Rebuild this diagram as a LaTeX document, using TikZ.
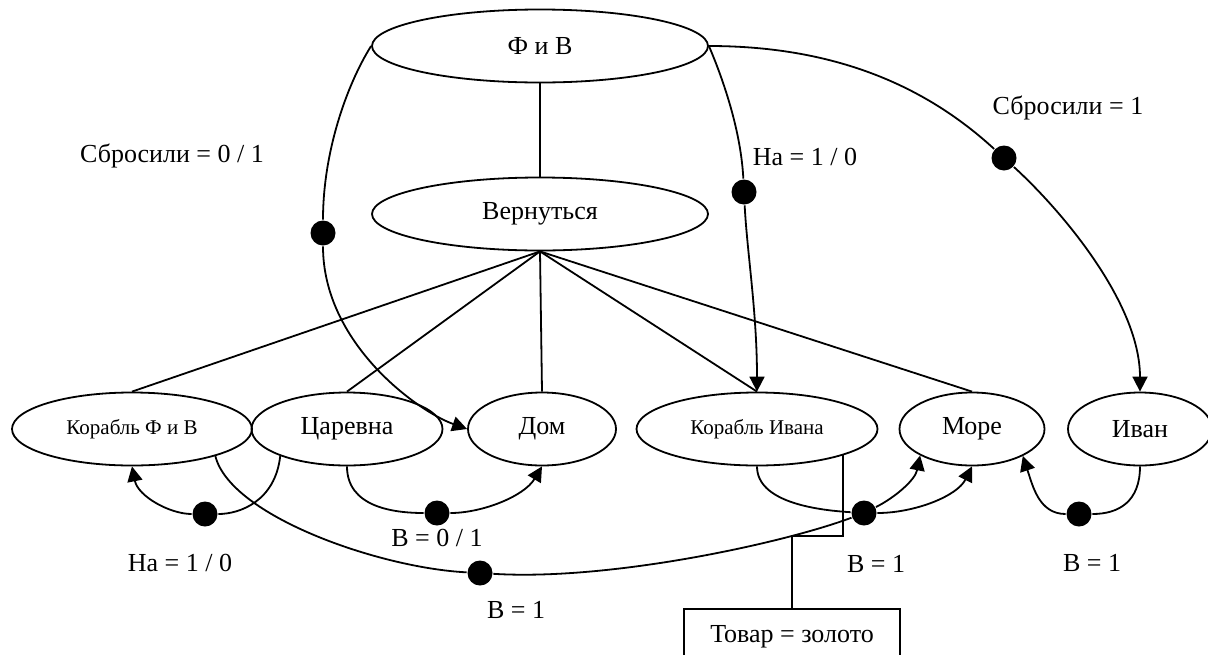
\documentclass[tikz,border=0pt]{standalone}
\usepackage{fontspec}
\setmainfont{Liberation Serif}
\usetikzlibrary{positioning, shapes.geometric, arrows.meta}

\begin{document}
\begin{tikzpicture}[
  x=1pt,
  y=-1pt,
  line width=1.8pt,
  every node/.style={
    inner sep=0mm
  },
  oval/.style={
    draw,
    ellipse,
    minimum width=#1,
    minimum height=73pt,
    font=\fontsize{26}{30}\selectfont
  },
  smalloval/.style={oval=#1, font=\fontsize{21}{25}\selectfont},
  junction/.style={circle, fill=black, minimum size=25pt},
  lbl/.style={font=\fontsize{26}{30}\selectfont},
  arr/.style={-{Triangle[length=15pt,width=15pt]}},
]
\useasboundingbox (0,0) rectangle (1208,654);
\clip (0,0) rectangle (1208,654);

\node[oval=336pt] (fiv) at (540,46) {Ф и В};
\node[oval=336pt] (back) at (540,214) {Вернуться};
\node[smalloval=240pt] (shipfv) at (132,429) {Корабль Ф и В};
\node[oval=191pt] (tsar) at (347,429) {Царевна};
\node[oval=148pt] (home) at (542,429) {Дом};
\node[smalloval=241pt] (shipiv) at (757,429) {Корабль Ивана};
\node[oval=145pt] (sea) at (972,429) {Море};
\node[oval=144pt] (ivan) at (1140,429) {Иван};
\node[draw, minimum width=216pt, minimum height=56pt, lbl] (goods) at (792,637) {Товар = золото};

\node[junction] (d1) at (323,233) {};
\node[junction] (d2) at (744,192) {};
\node[junction] (d3) at (1004,158) {};
\node[junction] (d4) at (205,514) {};
\node[junction] (d5) at (437,513) {};
\node[junction] (d6) at (480,573) {};
\node[junction] (d7) at (864,513) {};
\node[junction] (d8) at (1079,514) {};

\node[lbl] (l1) at (172,156) {Сбросили = 0 / 1};
\node[lbl] (l2) at (805,157) {На = 1 / 0};
\node[lbl] (l3) at (1068,108) {Сбросили = 1};
\node[lbl] (l4) at (180,563) {На = 1 / 0};
\node[lbl] (l5) at (437,538) {В = 0 / 1};
\node[lbl] (l6) at (516,610) {В = 1};
\node[lbl] (l7) at (876,564) {В = 1};
\node[lbl] (l8) at (1092,563) {В = 1};

\draw (fiv) -- (back);
\foreach \n in {shipfv, tsar, home, shipiv, sea}
  \draw (back.south) -- (\n.north);

\draw (fiv.west) .. controls +(-25,40) and +(0,-80) .. (d1);
\draw[arr] (d1) .. controls +(0,110) and +(-50,-18) .. (home.west);
\draw (fiv.east) .. controls +(15,35) and +(-3,-60) .. (d2);
\draw[arr] (d2) .. controls +(3,60) and +(0,-80) .. (shipiv.north);
\draw (fiv.east) .. controls +(132,0) and +(-74,-68) .. (d3);
\draw[arr] (d3) .. controls +(55,50) and +(0,-90) .. (ivan.north);

\draw (tsar.-158) .. controls +(-5,45) and +(35,0) .. (d4);
\draw[arr] (d4) .. controls +(-35,0) and +(6,30) .. (shipfv.south);
\draw (tsar.south) .. controls +(0,40) and +(-45,0) .. (d5);
\draw[arr] (d5) .. controls +(45,0) and +(-18,30) .. (home.south);
\draw (shipfv.-18) .. controls +(15,60) and +(-100,-5) .. (d6);
\draw (d6) .. controls +(130,8) and +(-80,30) .. (d7);
\draw[arr] (d7) .. controls +(30,-15) and +(-5,25) .. (sea.-153);
\draw (shipiv.south) .. controls +(0,35) and +(-50,-3) .. (d7);
\draw[arr] (d7) .. controls +(50,0) and +(-15,30) .. (sea.south);
\draw (ivan.south) .. controls +(0,35) and +(40,0) .. (d8);
\draw[arr] (d8) .. controls +(-40,0) and +(10,30) .. (sea.-28);

\draw (shipiv.-17) -- ++(0,81) -| (goods.north);
\end{tikzpicture}
\end{document}
